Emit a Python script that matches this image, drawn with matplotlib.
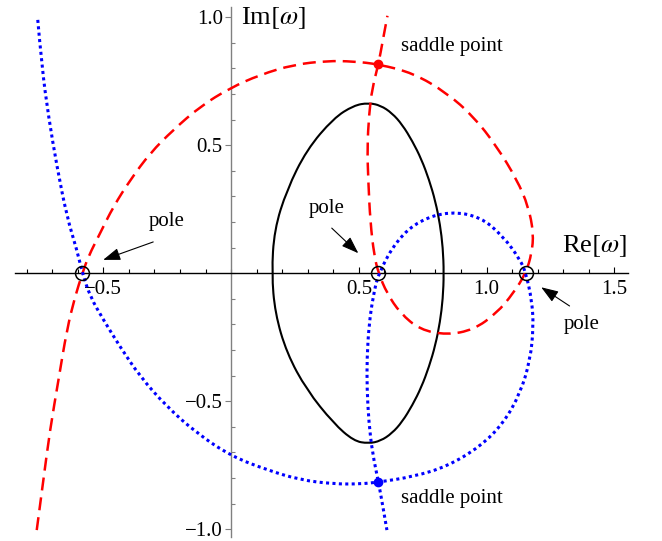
import numpy as np
import matplotlib
matplotlib.use('Agg')
from matplotlib import pyplot as plt
from matplotlib.path import Path
from matplotlib.patches import PathPatch
from matplotlib.ticker import MultipleLocator, FixedLocator, FixedFormatter

plt.rcParams['font.family'] = ['Liberation Serif', 'DejaVu Serif']
plt.rcParams['mathtext.fontset'] = 'stix'

#==============================================================================
# Curvas (Re, Im)
#==============================================================================
red_re = [-0.761, -0.735, -0.709, -0.676, -0.643, -0.611, -0.582, -0.559, -0.513,
          -0.461, -0.395, -0.317, -0.226, -0.121, -0.004, 0.114, 0.244, 0.375,
          0.479, 0.577, 0.714, 0.845, 0.949, 1.040, 1.119, 1.164, 1.184, 1.177,
          1.154, 1.105, 1.040, 0.949, 0.845, 0.740, 0.662, 0.610, 0.577, 0.560,
          0.545, 0.537, 0.533, 0.540, 0.552, 0.577, 0.594, 0.612]
red_im = [-1.003, -0.807, -0.612, -0.417, -0.221, -0.091, 0.0, 0.065, 0.156,
          0.260, 0.364, 0.469, 0.560, 0.651, 0.723, 0.775, 0.814, 0.829,
          0.827, 0.816, 0.781, 0.703, 0.612, 0.495, 0.365, 0.260, 0.156, 0.078,
          0.0, -0.078, -0.156, -0.221, -0.241, -0.221, -0.156, -0.078, 0.0, 0.070,
          0.200, 0.360, 0.490, 0.620, 0.720, 0.816, 0.910, 1.005]

blue_re = [-0.757, -0.741, -0.715, -0.682, -0.643, -0.604, -0.582, -0.552, -0.500,
           -0.435, -0.356, -0.252, -0.134, 0.0, 0.140, 0.270, 0.401, 0.505,
           0.577, 0.714, 0.845, 0.975, 1.066, 1.132, 1.171, 1.184, 1.177,
           1.154, 1.132, 1.066, 0.975, 0.857, 0.740, 0.649, 0.577, 0.556,
           0.540, 0.532, 0.532, 0.539, 0.553, 0.577, 0.594, 0.610]
blue_im = [0.989, 0.807, 0.612, 0.417, 0.221, 0.091, 0.0, -0.091, -0.182,
           -0.287, -0.404, -0.521, -0.625, -0.714, -0.768, -0.807, -0.823, -0.823,
           -0.816, -0.794, -0.755, -0.677, -0.586, -0.469, -0.339, -0.208, -0.104,
           0.0, 0.052, 0.143, 0.221, 0.241, 0.208, 0.130, 0.0, -0.090,
           -0.200, -0.330, -0.450, -0.580, -0.700, -0.816, -0.910, -1.003]

black_re = [0.538, 0.585, 0.630, 0.670, 0.710, 0.745, 0.775, 0.800, 0.818, 0.829, 0.833,
            0.829, 0.818, 0.800, 0.775, 0.745, 0.710, 0.670, 0.630, 0.585, 0.538,
            0.480, 0.401, 0.296, 0.218, 0.172, 0.159, 0.169, 0.218, 0.296, 0.401, 0.480]
black_im = [0.665, 0.655, 0.625, 0.580, 0.515, 0.445, 0.365, 0.280, 0.190, 0.100, 0.0,
            -0.100, -0.190, -0.280, -0.365, -0.445, -0.515, -0.580, -0.625, -0.655, -0.665,
            -0.655, -0.586, -0.456, -0.3125, -0.156, 0.0, 0.169, 0.325, 0.482, 0.605, 0.655]

polos_re = [-0.582, 0.577, 1.154]
polos_im = [0.0, 0.0, 0.0]
silla_re = [0.577, 0.577]
silla_im = [0.816, -0.816]

xticks = [-0.5, 0.5, 1.0, 1.5]
xlabels = ['\u22120.5', '0.5', '1.0', '1.5']
yticks = [-1.0, -0.5, 0.5, 1.0]
ylabels = ['\u22121.0', '\u22120.5', '0.5', '1.0']


def camino_suave(xs, ys, cerrado=False):
    # curva cuadratica de Bezier: los puntos leidos son puntos de control
    p = np.column_stack([xs, ys])
    if cerrado:
        p = np.vstack([p, p[:2]])
        verts = [(p[0] + p[1]) / 2]
        for i in range(1, len(p) - 1):
            verts += [p[i], (p[i] + p[i + 1]) / 2]
    else:
        verts = [p[0]]
        for i in range(1, len(p) - 2):
            verts += [p[i], (p[i] + p[i + 1]) / 2]
        verts += [p[-2], p[-1]]
    codes = [Path.MOVETO] + [Path.CURVE3] * (len(verts) - 1)
    return Path(verts, codes)


#==============================================================================
# Grafico
#==============================================================================
fig = plt.figure(figsize=(6.62, 5.41), dpi=100)
ax = fig.add_axes([0.0227, 0.0074, 0.926, 0.98])
ax.set_xlim(-0.846, 1.554)
ax.set_ylim(-1.03, 1.04)

ax.add_patch(PathPatch(camino_suave(black_re, black_im, cerrado=True), fill=False,
                       edgecolor='black', lw=1.5, zorder=3))
ax.add_patch(PathPatch(camino_suave(red_re, red_im), fill=False, edgecolor=(1, 0, 0),
                       lw=1.8, linestyle=(0, (5.2, 2.8)), zorder=4))
ax.add_patch(PathPatch(camino_suave(blue_re, blue_im), fill=False, edgecolor=(0, 0, 1),
                       lw=2.2, linestyle=(0, (1.0, 1.1)), zorder=4))
ax.plot(polos_re, polos_im, 'o', mfc='none', mec='black', ms=10, mew=1.1, zorder=5)
ax.plot(silla_re[0], silla_im[0], 'o', color=(1, 0, 0), ms=6, zorder=5)
ax.plot(silla_re[1], silla_im[1], 'o', color=(0, 0, 1), ms=6, zorder=5)

# ejes al estilo Mathematica
for s in ['top', 'right']:
    ax.spines[s].set_visible(False)
ax.spines['left'].set_position(('data', 0))
ax.spines['bottom'].set_position(('data', 0))
ax.spines['left'].set_color('#808080')
ax.spines['bottom'].set_color('black')
ax.spines['left'].set_linewidth(1.0)
ax.spines['bottom'].set_linewidth(1.0)

ax.xaxis.set_major_locator(FixedLocator(xticks))
ax.xaxis.set_major_formatter(FixedFormatter(xlabels))
ax.yaxis.set_major_locator(FixedLocator(yticks))
ax.yaxis.set_major_formatter(FixedFormatter(ylabels))
ax.xaxis.set_minor_locator(MultipleLocator(0.1))
ax.yaxis.set_minor_locator(MultipleLocator(0.1))
ax.tick_params(axis='x', which='major', direction='in', length=4, width=0.8, labelsize=15, pad=5)
ax.tick_params(axis='x', which='minor', direction='in', length=3, width=0.8)
ax.tick_params(axis='y', which='major', direction='out', length=4, width=0.8, labelsize=15, pad=2, color='#808080')
ax.tick_params(axis='y', which='minor', direction='in', length=3, width=0.8, color='#808080')

ax.text(0.038, 0.996, r'Im$[\omega]$', fontsize=19, ha='left', va='center')
ax.text(1.295, 0.104, r'Re$[\omega]$', fontsize=19, ha='left', va='center')
ax.text(0.666, 0.885, 'saddle point', fontsize=15, ha='left', va='center')
ax.text(0.666, -0.879, 'saddle point', fontsize=15, ha='left', va='center')

flecha = dict(arrowstyle='-|>,head_length=0.7,head_width=0.25', color='black',
              lw=0.8, mutation_scale=15, shrinkA=0, shrinkB=0)
ax.annotate('', xy=(-0.501, 0.052), xytext=(-0.305, 0.122), arrowprops=flecha)
ax.annotate('', xy=(0.498, 0.078), xytext=(0.394, 0.176), arrowprops=flecha)
ax.annotate('', xy=(1.214, -0.055), xytext=(1.325, -0.128), arrowprops=flecha)
ax.text(-0.251, 0.2, 'pole', fontsize=15, ha='center', va='center')
ax.text(0.375, 0.254, 'pole', fontsize=15, ha='center', va='center')
ax.text(1.373, -0.199, 'pole', fontsize=15, ha='center', va='center')

plt.savefig('out.png', dpi=100)
plt.close()
